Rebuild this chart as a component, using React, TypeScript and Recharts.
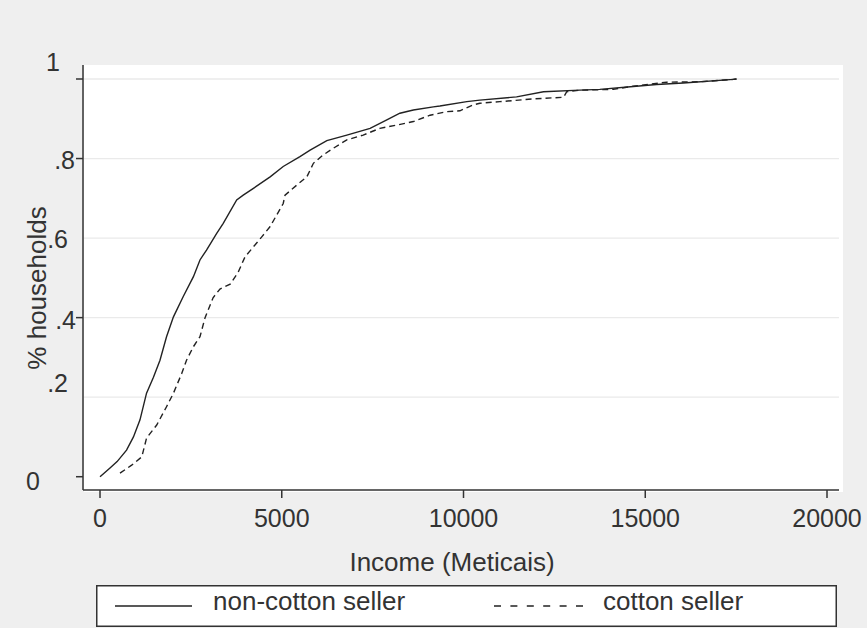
import React from 'react';
import { LineChart, Line, XAxis, YAxis, ReferenceLine, Legend, Label } from 'recharts';

// Non-cotton sellers: cumulative share of households by income
const nonCottonIncome = [0, 275, 470, 730, 920, 1100, 1280, 1470, 1650, 1830, 2020, 2290, 2570, 2750, 2930, 3210, 3390, 3760, 3940, 4220, 4680, 5040, 5500, 5780, 6240, 6790, 7430, 7890, 8250, 8620, 9170, 9350, 10090, 10450, 11460, 12200, 13200, 13750, 14670, 15310, 16050, 17420, 17510];
const nonCottonShare = [0, 0.022, 0.038, 0.067, 0.1, 0.143, 0.21, 0.25, 0.293, 0.352, 0.402, 0.453, 0.503, 0.545, 0.57, 0.612, 0.637, 0.696, 0.708, 0.725, 0.754, 0.78, 0.805, 0.821, 0.845, 0.859, 0.876, 0.897, 0.914, 0.922, 0.93, 0.932, 0.943, 0.947, 0.955, 0.968, 0.972, 0.974, 0.981, 0.986, 0.99, 0.999, 1.0];

// Cotton sellers
const cottonIncome = [550, 870, 1150, 1280, 1560, 1830, 2020, 2250, 2380, 2570, 2750, 2890, 3110, 3300, 3580, 3800, 3990, 4450, 4680, 5040, 5090, 5410, 5690, 5870, 6140, 6420, 6790, 7240, 7700, 8160, 8620, 9080, 9540, 9900, 10270, 10450, 11000, 11920, 12750, 12840, 13200, 14120, 14670, 15590, 16510, 17420, 17510];
const cottonShare = [0.009, 0.029, 0.05, 0.097, 0.13, 0.176, 0.21, 0.26, 0.293, 0.327, 0.352, 0.4, 0.45, 0.472, 0.484, 0.514, 0.553, 0.603, 0.629, 0.687, 0.708, 0.733, 0.754, 0.788, 0.809, 0.826, 0.847, 0.859, 0.876, 0.884, 0.893, 0.909, 0.918, 0.92, 0.935, 0.939, 0.943, 0.95, 0.954, 0.968, 0.972, 0.974, 0.982, 0.992, 0.993, 0.999, 1.0];

const xTicks = [0, 5000, 10000, 15000, 20000];
const yTicks = [0, 0.2, 0.4, 0.6, 0.8, 1];
const yTickLabels = ['0', '.2', '.4', '.6', '.8', '1'];
const yTickMarked = [0, 0.4, 0.8, 1];
const gridValues = [0.2, 0.4, 0.6, 0.8, 1];
const seriesNames = ['non-cotton seller', 'cotton seller'];
const xTitle = 'Income (Meticais)';
const yTitle = '% households';

const nonCottonData = nonCottonIncome.map((x, i) => ({ x, y: nonCottonShare[i] }));
const cottonData = cottonIncome.map((x, i) => ({ x, y: cottonShare[i] }));

const FONT = "'Liberation Sans', Arial, Helvetica, sans-serif";
const TEXT = '#333333';
const AXIS = '#333333';
const LINE = '#222222';

// per-label placement (relative to axis line x, tick y)
const yLabelPlace: Record<string, { dx: number; dy: number }> = {
  '0': { dx: -43, dy: 4.3 },
  '.2': { dx: -15, dy: -13.7 },
  '.4': { dx: -7, dy: 2 },
  '.6': { dx: -15, dy: 0.7 },
  '.8': { dx: -8, dy: 2 },
  '1': { dx: -23, dy: -17 },
};

const YTick = (props: any) => {
  const { x, y, payload } = props;
  const v = payload.value;
  const idx = yTicks.indexOf(v);
  const label = yTickLabels[idx];
  const place = yLabelPlace[label] || { dx: -10, dy: 0 };
  const marked = yTickMarked.indexOf(v) >= 0;
  return (
    <g>
      {marked && <line x1={x - 7} x2={x} y1={y} y2={y} stroke={AXIS} strokeWidth={1.5} />}
      <text
        x={x + place.dx}
        y={y + place.dy}
        dy="0.358em"
        textAnchor="end"
        fontFamily={FONT}
        fontSize={25}
        fill={TEXT}
      >
        {label}
      </text>
    </g>
  );
};

const LegendBox = () => (
  <svg width={741} height={42} style={{ display: 'block' }}>
    <rect x={0.75} y={0.75} width={739.5} height={40.5} fill="#ffffff" stroke={AXIS} strokeWidth={1.5} />
    <line x1={19} x2={96} y1={21} y2={21} stroke={LINE} strokeWidth={1.4} />
    <text x={117} y={25} dy="0" fontFamily={FONT} fontSize={26} fill={TEXT}>{seriesNames[0]}</text>
    <line x1={398} x2={487} y1={21} y2={21} stroke={LINE} strokeWidth={1.4} strokeDasharray="7 9.4" />
    <text x={507} y={25} fontFamily={FONT} fontSize={26} fill={TEXT}>{seriesNames[1]}</text>
  </svg>
);

export default function App() {
  return (
    <div
      style={{
        position: 'absolute',
        left: 0,
        top: 0,
        width: 867,
        height: 628,
        background: '#efefef',
        overflow: 'hidden',
      }}
    >
      <div
        style={{
          position: 'absolute',
          left: 84,
          top: 65,
          width: 759,
          height: 427,
          background: '#ffffff',
        }}
      />
      <LineChart width={867} height={628} margin={{ top: 65, right: 28, bottom: 0, left: 0 }}>
        <XAxis
          type="number"
          dataKey="x"
          domain={[-468, 20330]}
          allowDataOverflow
          ticks={xTicks}
          interval={0}
          height={138}
          tickSize={8}
          tickMargin={11}
          axisLine={{ stroke: AXIS, strokeWidth: 1.5 }}
          tickLine={{ stroke: AXIS, strokeWidth: 1.5 }}
          tick={{ fontFamily: FONT, fontSize: 25, fill: TEXT }}
        >
          <Label
            content={(p: any) => {
              const vb = p.viewBox || { x: 83, y: 490, width: 756 };
              return (
                <text
                  x={vb.x + vb.width / 2 - 9}
                  y={vb.y + 81}
                  textAnchor="middle"
                  fontFamily={FONT}
                  fontSize={26}
                  fill={TEXT}
                >
                  {xTitle}
                </text>
              );
            }}
          />
        </XAxis>
        <YAxis
          type="number"
          dataKey="y"
          domain={[-0.0334, 1.0352]}
          allowDataOverflow
          ticks={yTicks}
          interval={0}
          width={83}
          tickSize={0}
          tickMargin={0}
          tickLine={false}
          axisLine={{ stroke: AXIS, strokeWidth: 1.5 }}
          tick={<YTick />}
        >
          <Label
            content={(p: any) => {
              const vb = p.viewBox || { x: 0, y: 65, width: 83, height: 425 };
              const cx = vb.x + 46;
              const cy = vb.y + vb.height / 2 + 10.5;
              return (
                <text
                  x={cx}
                  y={cy}
                  transform={`rotate(-90 ${cx} ${cy})`}
                  textAnchor="middle"
                  fontFamily={FONT}
                  fontSize={26}
                  fill={TEXT}
                >
                  {yTitle}
                </text>
              );
            }}
          />
        </YAxis>
        {gridValues.map((g) => (
          <ReferenceLine key={g} y={g} stroke="#eaeaea" strokeWidth={1.3} ifOverflow="extendDomain" />
        ))}
        <Line
          data={nonCottonData}
          dataKey="y"
          name={seriesNames[0]}
          type="linear"
          stroke={LINE}
          strokeWidth={1.4}
          dot={false}
          activeDot={false}
          isAnimationActive={false}
        />
        <Line
          data={cottonData}
          dataKey="y"
          name={seriesNames[1]}
          type="linear"
          stroke={LINE}
          strokeWidth={1.4}
          strokeDasharray="6 4"
          dot={false}
          activeDot={false}
          isAnimationActive={false}
        />
        <Legend
          layout="horizontal"
          verticalAlign="middle"
          align="center"
          content={() => <LegendBox />}
          wrapperStyle={{ left: 96, top: 585, width: 741, height: 42 }}
        />
      </LineChart>
    </div>
  );
}
